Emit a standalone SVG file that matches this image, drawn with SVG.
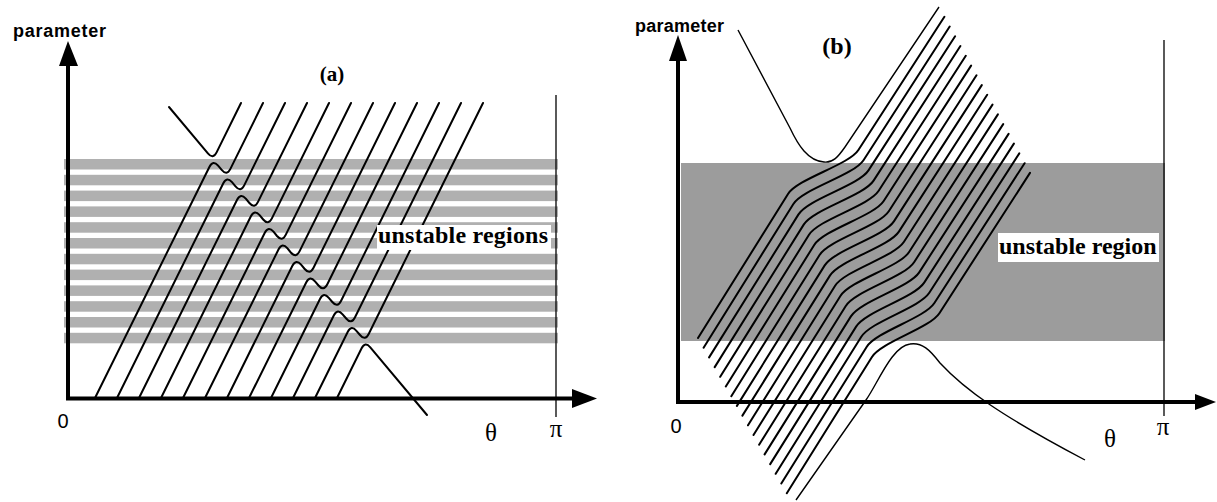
<svg xmlns="http://www.w3.org/2000/svg" width="1217" height="502" viewBox="0 0 1217 502">
<style>
.axis{stroke:#000;stroke-width:4;fill:none}
.thin{stroke:#000;stroke-width:1.3;fill:none}
.ca{stroke:#000;stroke-width:2;fill:none;stroke-linejoin:round;stroke-linecap:round}
.cb{stroke:#000;stroke-width:2;fill:none;stroke-linejoin:round;stroke-linecap:round}
.cd{stroke:#000;stroke-width:1.4;fill:none;stroke-linejoin:round}
.band{fill:#b0b0b0}
.bandb{fill:#9c9c9c}
.lab{font-family:"Liberation Sans",Arial,sans-serif;font-weight:bold;font-size:18px}
.num{font-family:"Liberation Sans",Arial,sans-serif;font-size:20px}
.gr{font-family:"Liberation Serif","Times New Roman",serif;font-size:25px}
.ttl{font-family:"Liberation Serif","Times New Roman",serif;font-weight:bold}
</style>
<rect width="1217" height="502" fill="#fff"/>
<g id="panel-a">
  <g id="a-bands">
    <rect class="band" x="64" y="159" width="494" height="10.5"/>
    <rect class="band" x="64" y="174.8" width="494" height="10.5"/>
    <rect class="band" x="64" y="190.6" width="494" height="10.5"/>
    <rect class="band" x="64" y="206.4" width="494" height="10.5"/>
    <rect class="band" x="64" y="222.2" width="494" height="10.5"/>
    <rect class="band" x="64" y="238" width="494" height="10.5"/>
    <rect class="band" x="64" y="253.8" width="494" height="10.5"/>
    <rect class="band" x="64" y="269.6" width="494" height="10.5"/>
    <rect class="band" x="64" y="285.4" width="494" height="10.5"/>
    <rect class="band" x="64" y="301.2" width="494" height="10.5"/>
    <rect class="band" x="64" y="317" width="494" height="10.5"/>
    <rect class="band" x="64" y="332.8" width="494" height="10.5"/>
  </g>
  <g id="a-curves">
    <path class="ca" d="M169,107 L207.9,153.4 Q213,159.6 216.6,152.4 L241,103"/>
    <path class="ca" d="M95,398 L209.5,166.7 Q213,159.6 218.1,165.7 L221.7,169.9 Q226.8,176.1 230.4,168.9 L263,103"/>
    <path class="ca" d="M117,398 L223.3,183.2 Q226.8,176.1 232,182.2 L235.5,186.4 Q240.7,192.6 244.2,185.4 L285,103"/>
    <path class="ca" d="M139,398 L237.1,199.7 Q240.7,192.6 245.8,198.7 L249.4,203 Q254.5,209.1 258,201.9 L307,103"/>
    <path class="ca" d="M161,398 L250.9,216.3 Q254.5,209.1 259.6,215.2 L263.2,219.5 Q268.3,225.6 271.9,218.4 L329,103"/>
    <path class="ca" d="M183,398 L264.8,232.8 Q268.3,225.6 273.5,231.7 L277,236 Q282.2,242.1 285.7,234.9 L351,103"/>
    <path class="ca" d="M205,398 L278.6,249.3 Q282.2,242.1 287.3,248.2 L290.8,252.5 Q296,258.6 299.5,251.4 L373,103"/>
    <path class="ca" d="M227,398 L292.4,265.8 Q296,258.6 301.1,264.7 L304.7,269 Q309.8,275.1 313.4,268 L395,103"/>
    <path class="ca" d="M249,398 L306.3,282.3 Q309.8,275.1 315,281.3 L318.5,285.5 Q323.6,291.6 327.2,284.5 L417,103"/>
    <path class="ca" d="M271,398 L320.1,298.8 Q323.6,291.6 328.8,297.8 L332.3,302 Q337.5,308.1 341,301 L439,103"/>
    <path class="ca" d="M293,398 L333.9,315.3 Q337.5,308.1 342.6,314.3 L346.2,318.5 Q351.3,324.7 354.9,317.5 L461,103"/>
    <path class="ca" d="M315,398 L347.8,331.8 Q351.3,324.7 356.4,330.8 L360,335 Q365.1,341.2 368.7,334 L483,103"/>
    <path class="ca" d="M337,398 L361.6,348.3 Q365.1,341.2 370.3,347.3 L427,415"/>
  </g>
  <g id="a-axes">
    <line class="axis" x1="68" y1="400" x2="68" y2="62"/>
    <polygon points="68,41 59,66 78,66"/>
    <line class="axis" x1="66" y1="398.5" x2="576" y2="398.5"/>
    <polygon points="597,398.5 572,389 572,408"/>
    <line class="thin" x1="556" y1="95" x2="556" y2="417"/>
  </g>
  <g id="a-labels">
    <rect x="377" y="225" width="174" height="25" fill="#fff"/>
    <text class="ttl" x="378" y="243" font-size="24" textLength="170">unstable regions</text>
    <text class="lab" x="13" y="37" textLength="93">parameter</text>
    <text class="ttl" x="332" y="81" font-size="21" text-anchor="middle">(a)</text>
    <text class="num" x="63" y="428" text-anchor="middle">0</text>
    <text class="gr" x="491" y="441" text-anchor="middle">θ</text>
    <text class="gr" x="556" y="437" text-anchor="middle">π</text>
  </g>
</g>
<g id="panel-b">
  <rect id="b-band" class="bandb" x="681" y="163" width="484" height="178"/>
  <g id="b-curves">
    <path class="cd" d="M738,30 L790,128 C798,145 808,161 824,162 C833,163 838,157 845,147 L939,7"/>
    <path class="cb" d="M698,338 L788,194 C797.5,178.7 848.6,165.1 858.4,150 L944.4,16.8"/>
    <path class="cb" d="M703.6,347.7 L793.2,204.2 C802.7,188.9 853.7,175.3 863.5,160.2 L949.7,26.5"/>
    <path class="cb" d="M709.1,357.4 L798.5,214.4 C808,199.1 858.7,185.5 868.5,170.4 L955.1,36.3"/>
    <path class="cb" d="M714.7,367.1 L803.7,224.6 C813.2,209.3 863.8,195.7 873.6,180.6 L960.4,46"/>
    <path class="cb" d="M720.2,376.8 L809,234.8 C818.5,219.5 868.9,205.9 878.7,190.8 L965.8,55.8"/>
    <path class="cb" d="M725.8,386.5 L814.2,245 C823.7,229.7 873.9,216.1 883.7,201 L971.1,65.6"/>
    <path class="cb" d="M731.3,396.2 L819.4,255.2 C828.9,239.9 879,226.3 888.8,211.2 L976.5,75.3"/>
    <path class="cb" d="M736.9,405.9 L824.7,265.4 C834.2,250.1 884.1,236.5 893.9,221.4 L981.8,85.1"/>
    <path class="cb" d="M742.4,415.6 L829.9,275.6 C839.4,260.3 889.1,246.7 898.9,231.6 L987.2,94.8"/>
    <path class="cb" d="M748,425.3 L835.1,285.8 C844.6,270.5 894.2,256.9 904,241.8 L992.5,104.6"/>
    <path class="cb" d="M753.5,435 L840.4,296 C849.9,280.7 899.3,267.1 909.1,252 L997.9,114.4"/>
    <path class="cb" d="M759.1,444.7 L845.6,306.2 C855.1,290.9 904.3,277.3 914.1,262.2 L1003.2,124.1"/>
    <path class="cb" d="M764.6,454.4 L850.9,316.4 C860.4,301.1 909.4,287.5 919.2,272.4 L1008.6,133.9"/>
    <path class="cb" d="M770.2,464.1 L856.1,326.6 C865.6,311.3 914.4,297.7 924.2,282.6 L1013.9,143.6"/>
    <path class="cb" d="M775.7,473.8 L861.3,336.8 C870.8,321.5 919.5,307.9 929.3,292.8 L1019.3,153.4"/>
    <path class="cb" d="M781.3,483.5 L866.6,347 C876.1,331.7 924.6,318.1 934.4,303 L1024.6,163.2"/>
    <path class="cb" d="M786.8,493.2 L871.8,357.2 C881.3,341.9 929.6,328.3 939.4,313.2 L1030,172.9"/>
    <path class="cd" d="M796,500 L866,400 C878,383 892,346 910,344 C922,342 930,350 940,363 C965,390 1000,415 1085,460"/>
  </g>
  <g id="b-axes">
    <line class="axis" x1="678" y1="404" x2="678" y2="56"/>
    <polygon points="678,35 669,61 687,61"/>
    <line class="axis" x1="676" y1="402" x2="1198" y2="402"/>
    <polygon points="1216,402 1195,394 1195,410"/>
    <line class="thin" x1="1164" y1="40" x2="1164" y2="416"/>
  </g>
  <g id="b-labels">
    <rect x="998" y="233" width="161" height="29" fill="#fff"/>
    <text class="ttl" x="999" y="254" font-size="24">unstable region</text>
    <text class="lab" x="635" y="32" textLength="89">parameter</text>
    <text class="ttl" x="837" y="54" font-size="24" text-anchor="middle">(b)</text>
    <text class="num" x="676" y="433" text-anchor="middle">0</text>
    <text class="gr" x="1110" y="447" text-anchor="middle">θ</text>
    <text class="gr" x="1163" y="435" text-anchor="middle">π</text>
  </g>
</g>
</svg>
